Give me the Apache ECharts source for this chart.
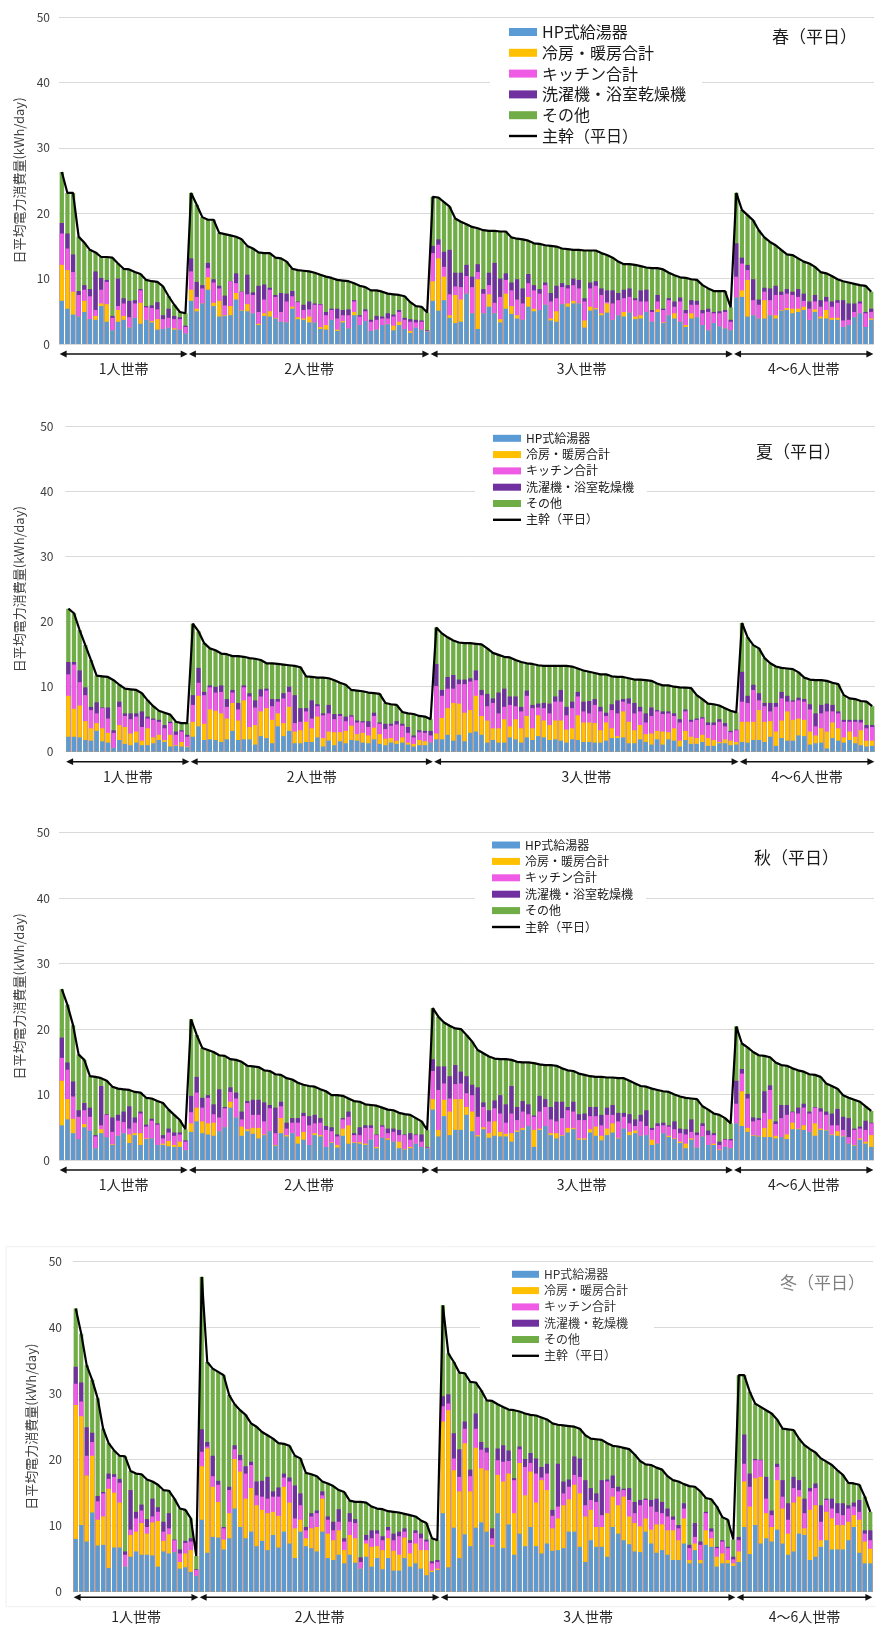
<!DOCTYPE html>
<html><head><meta charset="utf-8">
<script src="https://cdn.jsdelivr.net/npm/echarts@6/dist/echarts.min.js"></script>
<style>html,body{margin:0;padding:0;background:#fff}#c{width:876px;height:1628px}</style>
</head><body><div id="c"></div>
<script>
// ---------- categories / labels ----------
const groupNames = ['1人世帯', '2人世帯', '3人世帯', '4〜6人世帯'];
const seriesNames = ['HP式給湯器', '冷房・暖房合計', 'キッチン合計', '洗濯機・浴室乾燥機', 'その他', '主幹（平日）'];
const winterLaundryName = '洗濯機・乾燥機';
const yTicks = [0, 10, 20, 30, 40, 50];
// Values are read as the top level of each coloured band (kWh/day); bars are drawn from zero, overlapped.

// ---------- SPRING ----------
const springCounts = [23, 43, 54, 25];
const springHP = [6.6,5.4,4.5,4.2,4.9,3.8,3.7,5.8,3.4,2.1,3.4,3.7,2.5,4.0,3.1,3.7,3.3,2.2,2.3,2.5,2.2,2.2,1.6,
 6.6,5.0,6.2,8.3,5.8,4.2,4.3,4.4,6.8,5.1,5.0,4.7,2.9,4.3,4.2,3.9,3.4,3.3,5.4,3.8,3.7,3.3,3.3,2.3,2.2,3.7,2.0,3.3,2.4,4.4,2.9,3.5,2.0,2.2,2.9,3.0,2.1,2.9,2.3,1.7,2.5,2.2,1.9,
 6.6,5.1,6.7,4.0,3.2,3.4,7.7,4.7,2.3,4.7,5.7,4.7,3.3,5.4,4.6,3.9,3.7,5.7,5.0,5.2,6.0,3.6,3.4,6.1,5.7,6.2,6.2,2.5,5.1,5.3,4.4,4.8,3.7,4.4,4.2,4.8,3.8,3.9,4.9,3.4,4.9,3.2,4.4,3.9,3.4,2.6,3.9,4.1,2.9,2.1,3.2,2.7,2.4,2.1,
 7.1,7.2,4.2,4.4,3.9,3.9,4.4,3.9,5.1,5.2,4.7,4.9,5.2,3.7,4.9,3.9,3.9,3.7,3.7,2.6,2.9,4.1,4.7,2.6,3.7];
const springAC = [12.1,11.3,8.0,4.2,6.6,3.8,4.3,6.2,6.1,2.1,5.2,4.3,2.5,4.0,6.3,3.7,3.5,3.8,2.3,2.5,2.4,2.2,1.6,
 8.3,5.4,6.2,10.2,6.3,6.6,4.4,5.8,7.8,5.2,6.1,4.7,3.1,4.7,5.0,4.0,3.4,3.3,5.7,4.1,3.9,4.2,3.3,2.6,2.9,3.7,2.2,3.5,2.4,4.9,2.9,3.5,2.0,2.2,2.9,3.0,2.8,3.4,2.3,2.0,2.5,2.2,1.9,
 9.6,13.1,10.3,4.4,7.5,6.8,7.7,4.7,9.9,4.7,7.6,4.7,3.8,7.7,5.8,4.4,3.7,7.2,5.4,5.2,6.0,3.9,5.0,6.1,6.2,6.6,6.2,3.6,5.7,5.5,4.7,6.2,3.7,4.4,4.9,4.8,4.2,4.4,4.9,3.4,5.3,3.3,4.4,4.7,3.4,2.9,4.7,4.1,2.9,2.1,3.2,2.7,2.4,2.1,
 7.1,8.2,9.8,4.4,3.9,6.7,4.4,4.4,5.2,5.5,5.4,5.4,5.7,3.7,5.3,4.2,5.2,4.0,4.0,2.6,2.9,4.1,4.7,2.6,3.9];
const springKitchen = [16.9,14.6,11.0,7.5,8.3,7.3,5.2,8.3,9.5,4.0,5.8,6.2,4.1,6.2,8.2,5.6,5.5,5.3,3.8,4.0,3.8,3.8,2.6,
 11.1,7.2,8.5,11.6,9.4,8.5,5.9,9.6,9.3,8.0,7.6,7.5,4.9,6.8,8.3,7.2,4.9,6.5,7.3,6.4,5.2,5.3,6.0,6.0,4.4,5.2,3.9,4.4,4.4,6.5,4.2,5.0,3.4,3.7,3.9,3.9,4.2,4.9,3.7,3.4,3.3,3.4,2.0,
 13.9,15.2,11.8,7.6,8.8,8.7,10.4,8.7,11.0,7.7,9.0,6.3,7.2,9.8,8.2,6.8,6.2,9.3,8.2,7.7,9.0,6.5,7.0,8.7,8.5,9.0,8.5,6.5,8.5,8.9,7.5,6.4,6.2,6.7,7.0,7.2,6.7,6.5,6.5,4.9,6.5,5.2,6.7,5.7,6.5,4.7,6.0,6.0,4.7,4.9,4.7,4.7,4.9,3.4,
 10.3,12.3,11.3,6.7,6.0,8.0,6.7,7.5,7.5,7.7,7.5,7.2,6.6,5.4,6.5,5.7,6.5,5.7,6.3,3.6,3.7,4.9,6.2,4.7,4.9];
const springLaundry = [18.5,16.9,13.7,8.1,9.0,8.4,11.1,10.1,9.8,4.3,10.0,7.0,6.6,6.7,8.4,5.8,5.9,6.4,4.4,5.4,4.3,4.1,2.8,
 13.1,9.5,9.0,12.4,9.9,8.9,7.4,9.6,10.8,8.0,10.6,7.9,8.9,9.1,8.6,7.5,7.8,7.7,8.1,6.5,6.0,6.5,6.2,6.1,4.9,5.4,5.4,5.2,5.3,6.7,4.4,5.3,3.7,4.3,4.2,4.7,4.5,5.2,4.0,3.8,3.7,3.6,2.1,
 15.0,16.0,14.1,14.4,10.9,10.9,12.1,10.3,12.2,8.4,10.9,12.4,10.0,10.8,9.4,9.9,8.5,10.7,9.0,8.4,9.4,7.8,8.9,9.3,9.0,10.0,9.8,7.0,9.4,9.6,8.5,8.2,8.2,7.8,8.3,8.5,7.0,8.2,8.3,5.2,7.5,5.4,7.0,6.5,7.1,5.2,6.7,6.6,5.2,5.4,4.9,5.0,5.2,3.7,
 15.4,13.2,12.1,9.9,6.8,8.6,8.5,8.9,8.0,8.4,8.0,8.4,7.7,6.5,7.5,6.7,7.2,6.5,6.7,6.7,6.2,6.2,6.5,4.9,5.4];
const springMain = [26.3,23.1,23.1,16.4,15.5,14.4,14.0,13.3,13.3,13.2,12.3,11.5,11.4,11.0,10.7,9.8,9.6,9.5,8.8,7.3,6.0,4.9,4.7,
 23.1,21.3,19.4,19.0,19.0,17.0,16.8,16.6,16.4,16.0,15.0,14.6,14.0,13.9,13.9,13.2,13.1,12.6,11.5,11.3,11.2,11.1,10.9,10.6,10.3,10.1,9.8,9.7,9.6,9.3,8.9,8.7,8.2,8.2,8.0,7.7,7.6,7.5,7.3,6.4,5.8,5.7,4.8,
 22.5,22.4,21.7,21.0,19.2,18.7,18.3,17.9,17.7,17.4,17.3,17.3,17.2,17.2,16.3,16.1,16.0,15.8,15.4,15.3,15.1,15.0,14.9,14.6,14.5,14.4,14.4,14.3,14.3,14.3,13.9,13.6,13.2,12.6,12.2,12.2,12.1,11.9,11.7,11.6,11.6,11.4,10.9,10.5,10.2,10.1,9.9,9.8,9.0,8.5,8.1,8.1,8.1,5.6,
 23.1,20.5,19.7,18.9,17.4,16.3,15.6,15.1,14.4,13.7,13.6,13.1,12.6,12.3,11.8,11.0,10.8,10.4,9.9,9.6,9.4,9.2,9.0,8.9,8.0];

// ---------- SUMMER ----------
const summerCounts = [22, 43, 54, 24];
const summerHP = [2.3,2.3,2.2,1.8,1.7,3.2,1.6,1.4,0.6,1.8,1.2,1.0,1.4,1.0,1.0,1.3,1.8,1.5,0.8,0.9,0.8,0.7,
 2.3,3.9,1.8,1.9,1.8,1.5,1.9,3.2,1.8,1.9,1.9,1.1,2.4,2.1,1.3,3.9,2.4,3.2,1.3,1.3,1.5,1.5,2.2,0.8,1.7,1.0,1.6,1.3,1.8,1.7,1.4,1.3,1.9,1.2,1.0,1.4,1.2,1.4,1.1,0.8,1.0,1.0,1.4,
 1.9,1.9,2.6,1.7,2.6,1.6,2.9,3.1,2.6,1.4,1.8,1.4,1.4,2.2,1.9,1.4,2.2,1.8,2.4,2.2,1.8,1.9,1.7,1.4,1.9,1.8,1.5,1.5,1.4,1.4,1.7,2.1,2.1,2.2,1.3,1.3,1.9,1.5,1.1,1.9,1.1,1.9,1.7,0.8,1.8,1.2,1.2,1.5,0.9,0.9,1.3,1.3,1.0,1.1,
 1.5,1.4,1.8,1.8,1.5,2.3,0.9,2.1,1.7,1.7,2.5,2.4,1.1,1.3,1.4,0.5,2.1,1.7,1.4,1.8,1.3,1.0,0.8,0.9];
const summerAC = [8.6,6.6,7.1,4.7,3.6,4.4,3.6,2.9,0.6,4.1,3.8,2.8,3.1,1.7,3.6,2.2,2.6,1.8,2.6,1.0,1.5,0.8,
 4.6,8.6,4.3,6.5,6.3,5.9,5.1,7.5,4.8,7.9,3.8,4.1,6.2,6.7,4.9,5.9,4.4,6.9,3.1,3.3,4.6,3.6,5.4,2.1,3.1,3.0,3.0,3.2,4.0,2.7,2.9,2.5,3.7,2.7,2.0,2.1,1.7,2.2,1.4,1.2,1.8,1.6,1.4,
 2.8,5.2,6.7,7.5,7.4,6.0,6.4,8.6,5.5,4.8,3.6,3.6,5.0,3.9,5.0,3.6,5.5,3.6,5.6,4.8,4.1,4.8,4.8,3.4,3.6,5.6,4.5,4.5,4.4,3.3,4.5,3.6,2.4,6.2,4.6,3.3,4.1,2.7,2.8,3.2,3.1,3.0,3.6,1.7,3.2,2.3,2.1,2.6,2.1,1.8,1.5,1.9,1.7,1.5,
 4.6,4.6,4.6,6.4,4.6,4.7,3.1,4.8,6.2,4.9,5.1,4.9,3.1,2.5,3.6,3.1,4.5,3.6,2.2,3.1,2.3,3.3,1.7,1.7];
const summerKitchen = [11.9,13.4,10.7,8.7,6.4,5.9,6.7,5.1,2.9,6.9,5.5,5.0,5.4,3.8,5.1,4.9,4.6,3.6,4.4,2.6,3.1,2.3,
 7.2,10.6,8.7,9.9,9.1,9.2,6.9,9.1,6.5,9.9,8.5,6.8,8.5,9.4,7.0,7.7,8.2,9.2,4.4,4.6,6.2,5.1,7.0,5.6,5.9,5.0,5.5,4.7,5.4,4.5,4.5,3.8,5.5,4.3,3.5,4.0,4.2,4.0,2.9,2.2,3.0,2.9,2.5,
 10.1,8.6,9.7,9.7,10.4,10.4,10.8,11.0,8.7,7.0,7.5,5.9,6.9,7.2,7.0,6.2,8.6,6.7,6.8,6.7,5.9,7.7,7.7,5.6,6.7,8.5,6.2,5.9,7.2,6.2,5.5,6.4,5.9,7.7,7.4,5.9,6.2,4.5,5.5,6.2,5.8,5.9,5.5,4.5,6.2,4.6,4.9,5.1,4.1,4.1,4.6,3.9,3.0,3.3,
 7.7,7.5,9.5,7.9,7.0,6.2,6.9,8.2,7.7,7.7,7.9,7.7,6.5,3.9,5.9,6.2,6.2,5.9,4.6,4.6,4.6,4.5,3.6,3.8];
const summerLaundry = [13.8,13.8,12.5,9.9,6.9,7.6,6.8,6.8,3.3,7.7,5.9,5.9,5.9,6.2,5.4,5.1,4.9,4.1,4.6,3.1,3.3,2.6,
 8.7,12.9,9.2,10.2,10.0,10.2,8.1,9.5,7.5,10.2,9.0,7.9,9.6,9.7,8.1,8.1,9.0,10.0,8.7,6.7,6.7,7.9,7.3,5.9,7.2,5.8,5.8,5.4,5.6,4.8,4.7,4.7,6.0,4.5,4.3,4.3,4.7,4.3,3.8,2.5,3.3,3.2,3.2,
 13.5,9.5,11.5,11.8,11.1,11.1,11.3,12.5,9.5,8.9,8.2,9.1,9.7,8.5,8.5,6.9,9.4,7.2,7.4,7.5,7.4,8.5,9.5,6.9,7.7,9.2,7.7,7.8,8.1,6.9,6.0,7.3,7.9,8.1,8.2,7.5,6.9,5.9,6.8,6.4,6.2,6.2,5.9,5.0,6.5,4.9,5.1,5.3,4.5,4.5,5.0,4.4,3.2,3.4,
 12.3,8.6,10.3,9.0,7.5,7.5,7.5,9.2,8.6,7.9,8.3,8.1,7.3,5.9,7.2,7.4,7.2,6.2,4.9,4.9,4.9,4.9,4.1,4.1];
const summerMain = [22.0,21.3,18.7,16.4,14.1,11.7,11.6,11.5,11.0,10.3,9.7,9.6,9.5,9.0,7.9,7.0,6.3,6.0,5.7,4.6,4.4,4.4,
 19.7,18.5,16.7,15.9,15.6,15.1,15.0,14.7,14.7,14.6,14.4,14.3,14.1,13.6,13.6,13.5,13.4,13.3,13.2,13.0,11.6,11.5,11.4,11.4,11.3,11.0,10.6,10.3,9.5,9.4,9.3,9.1,9.0,8.9,7.5,7.3,7.2,6.1,5.9,5.8,5.5,5.4,5.0,
 19.1,18.2,17.6,17.1,16.8,16.7,16.7,16.6,16.5,15.9,15.2,14.9,14.6,14.5,14.1,13.8,13.6,13.5,13.3,13.2,13.2,13.2,13.2,13.2,13.1,12.8,12.5,12.3,12.1,11.9,11.9,11.6,11.5,11.5,11.3,11.1,11.1,11.0,10.9,10.5,10.2,10.2,10.0,9.9,9.85,9.8,8.7,8.1,7.4,7.3,7.1,6.7,6.3,6.05,
 19.8,17.6,16.4,15.9,14.4,13.6,13.1,12.9,12.8,12.7,12.2,11.4,11.1,11.0,11.0,10.9,10.6,10.4,8.7,8.2,8.1,7.8,7.7,7.0];

// ---------- AUTUMN ----------
const autumnCounts = [23, 43, 54, 25];
const autumnHP = [5.3,6.2,4.1,3.2,5.0,4.5,1.8,4.1,3.5,2.3,3.7,4.1,2.6,3.8,2.3,3.2,3.3,2.3,2.3,2.1,2.0,2.0,1.5,
 4.3,5.9,4.1,3.9,3.7,4.4,5.0,8.0,6.5,3.7,4.4,4.0,3.3,3.8,4.4,2.2,4.1,3.6,4.1,2.5,3.1,2.3,3.8,3.6,2.0,2.6,1.9,3.7,2.5,2.6,2.5,2.3,3.1,1.8,3.4,3.1,2.8,1.8,1.6,1.8,2.5,2.0,1.8,
 7.7,3.6,6.7,3.8,4.6,4.6,6.9,4.4,3.6,4.7,3.4,3.7,3.6,3.6,2.8,4.3,4.6,5.2,2.0,4.6,5.2,3.8,3.3,3.7,4.2,4.7,3.1,3.1,4.2,3.7,3.0,3.8,4.2,3.3,4.8,3.8,4.1,3.7,3.8,2.3,2.5,4.1,3.5,3.2,2.6,1.8,3.1,1.9,3.6,2.3,2.3,1.5,2.0,1.8,
 5.6,5.2,4.3,3.7,3.6,3.5,3.5,3.3,3.5,3.2,4.7,4.7,4.6,4.3,3.7,4.6,4.5,3.8,3.7,3.6,2.5,2.2,3.1,2.5,2.0];
const autumnAC = [12.1,9.3,6.3,3.2,5.5,4.5,1.8,4.7,3.5,2.4,3.7,4.1,3.9,4.1,4.1,3.3,3.3,2.3,2.5,2.9,2.3,2.8,1.5,
 5.6,8.0,5.9,5.6,5.7,4.4,5.0,8.9,6.5,5.1,4.7,4.9,4.9,3.9,4.4,2.3,6.4,3.8,4.1,3.6,4.3,2.3,4.1,3.8,2.0,2.7,2.3,4.8,5.3,2.7,2.7,2.5,3.1,2.0,3.4,3.3,2.8,2.8,1.7,2.0,2.5,2.0,1.8,
 9.3,4.6,9.2,7.4,9.3,9.3,8.1,7.4,3.8,5.0,4.1,5.9,4.3,4.0,4.1,4.5,4.9,5.2,4.6,4.8,5.2,4.1,4.1,3.8,4.9,4.9,3.3,3.3,4.7,5.1,3.7,4.8,5.6,3.4,4.8,4.3,4.5,3.7,3.8,3.1,2.5,4.1,3.7,3.3,2.8,2.5,3.3,1.9,3.6,2.3,2.5,1.6,2.0,1.8,
 5.6,10.5,4.9,3.8,3.7,4.9,6.2,3.7,3.5,3.9,5.7,4.8,5.3,4.3,5.6,4.8,4.6,3.9,4.4,3.7,2.5,2.3,3.3,2.8,3.8];
const autumnKitchen = [15.6,13.8,9.7,6.6,7.6,6.6,3.6,5.3,6.9,4.3,6.0,5.8,4.8,5.7,7.1,5.1,6.0,5.4,3.3,4.2,3.7,3.9,2.8,
 7.3,10.3,8.0,9.5,7.0,6.5,7.9,10.4,9.4,6.2,8.7,6.9,6.9,5.9,7.9,4.1,8.2,4.8,5.7,5.7,6.7,5.3,5.6,5.7,4.6,4.4,3.6,6.2,6.6,3.8,3.8,4.9,4.9,3.8,5.1,4.1,4.3,3.8,3.8,3.1,3.8,2.8,1.9,
 13.6,10.7,11.7,9.4,11.6,11.7,10.2,9.9,6.6,8.1,5.9,7.9,7.1,5.7,7.1,6.1,7.4,7.0,6.6,7.4,8.1,6.2,5.9,6.4,7.6,7.4,6.1,6.1,6.7,6.7,5.3,6.9,6.9,5.9,6.6,5.6,5.2,5.9,5.2,4.6,5.2,5.3,5.1,4.7,4.1,3.9,4.3,3.8,5.2,3.8,3.8,2.3,3.1,3.0,
 8.6,13.2,9.4,5.9,6.1,7.2,10.7,5.5,6.4,6.9,7.3,7.1,8.0,7.1,8.0,7.4,6.9,5.3,5.3,4.6,3.5,4.6,4.8,4.6,5.6];
const autumnLaundry = [18.7,14.9,12.0,7.6,8.7,8.0,3.8,11.3,7.0,6.5,6.9,7.4,8.2,6.5,7.4,5.4,6.3,5.6,3.8,4.8,4.2,4.2,3.0,
 9.8,12.7,9.5,9.9,8.5,10.8,8.1,11.1,10.3,7.4,9.0,9.2,9.2,8.8,8.4,8.0,8.9,5.7,6.4,6.4,7.2,6.7,6.9,6.4,5.2,5.0,3.9,6.4,7.4,4.1,5.0,5.3,5.3,3.9,5.3,4.8,4.8,4.6,3.9,4.1,3.9,3.9,2.0,
 15.4,14.3,14.3,12.8,14.5,13.5,12.8,11.5,11.1,8.8,7.6,9.1,9.9,8.5,11.3,8.1,9.0,8.5,6.8,9.8,9.3,8.1,8.9,8.9,8.1,8.9,7.0,7.1,8.1,8.1,6.9,8.0,8.4,7.2,7.2,7.0,6.2,6.9,7.6,4.9,5.6,5.7,5.3,5.9,4.8,4.7,6.2,4.2,5.6,4.5,4.1,2.8,3.2,3.2,
 12.1,13.9,10.1,6.5,6.4,10.5,11.4,5.9,8.4,8.4,7.4,8.0,8.6,7.4,8.1,7.9,7.4,7.1,7.8,6.6,6.4,4.8,5.1,6.0,5.7];
const autumnMain = [26.1,23.7,20.6,16.1,15.3,12.8,12.7,12.5,12.1,11.2,10.9,10.8,10.7,10.4,10.3,9.5,9.4,9.0,8.7,7.7,6.9,6.1,4.7,
 21.5,19.1,17.1,16.8,16.5,16.0,15.9,15.4,15.3,15.0,14.4,14.3,14.2,13.7,13.6,13.1,13.0,12.5,12.3,11.8,11.5,11.3,11.2,10.8,10.5,9.9,9.9,9.8,9.4,9.0,8.9,8.5,8.4,8.3,8.0,7.7,7.6,7.2,7.0,6.9,6.4,5.9,4.6,
 23.2,21.9,21.0,20.5,20.1,20.0,19.1,18.1,16.8,16.3,15.8,15.5,15.4,15.4,15.3,15.0,14.9,14.9,14.8,14.6,14.5,14.5,14.4,14.0,13.7,13.6,13.2,13.0,12.8,12.7,12.7,12.6,12.6,12.5,12.5,12.1,11.7,11.3,11.2,10.9,10.7,10.5,10.4,10.0,9.7,9.5,9.4,9.3,8.2,7.7,7.1,6.9,6.4,5.6,
 20.4,17.8,17.2,16.5,16.0,15.9,15.7,14.9,14.5,14.4,14.0,13.7,13.5,13.1,13.0,12.7,11.7,11.3,10.9,9.9,9.5,9.2,8.9,8.2,7.5];

// ---------- WINTER ----------
const winterCounts = [23, 44, 54, 25];
const winterHP = [8.0,10.1,7.6,12.0,7.0,7.1,3.6,6.7,6.7,3.8,5.3,6.1,5.6,5.6,5.5,3.8,6.1,5.8,6.0,3.5,3.7,3.0,2.4,
 10.9,5.9,8.3,8.2,6.4,8.1,12.6,9.8,8.1,9.1,6.9,7.7,6.3,8.6,6.7,9.1,7.3,5.1,9.1,6.9,6.6,6.1,9.1,5.1,4.8,5.6,4.3,5.6,4.4,3.5,5.3,3.8,5.1,3.4,5.1,3.2,3.2,5.1,3.8,4.3,3.5,2.5,3.0,3.3,
 11.9,3.7,9.7,5.1,8.7,6.9,9.7,10.5,9.1,6.8,11.9,6.6,10.2,5.6,8.8,6.9,9.8,6.9,5.8,7.3,6.2,6.3,6.6,9.1,9.1,6.8,4.5,7.8,6.8,6.8,5.3,9.8,8.8,7.8,7.2,6.1,6.0,9.1,7.3,5.9,6.3,5.6,4.8,4.8,7.3,4.3,6.3,4.3,7.1,6.8,3.8,4.3,4.3,3.9,
 4.5,9.8,5.7,10.1,7.3,8.1,7.6,9.4,7.3,5.6,6.1,8.8,8.6,4.8,5.3,6.8,7.8,6.4,6.4,6.4,7.8,9.8,5.9,4.3,4.3];
const winterAC = [28.3,26.6,17.6,20.6,10.9,11.4,15.6,15.0,13.5,3.8,8.6,9.1,10.4,8.8,10.5,10.7,7.7,8.7,6.0,4.5,5.8,6.3,2.4,
 19.0,21.7,15.9,13.6,7.9,11.9,20.1,18.2,14.1,15.7,13.1,12.4,11.9,12.1,11.5,15.9,13.5,9.6,10.9,8.1,9.6,9.8,14.1,8.8,7.8,9.3,6.3,8.6,8.1,3.5,7.3,6.8,6.9,6.3,8.1,6.2,5.6,8.2,5.8,7.3,6.3,6.3,3.2,3.5,
 25.8,27.5,18.4,15.2,22.5,15.2,21.8,18.7,18.4,7.1,17.7,16.7,17.9,11.9,19.5,14.6,18.2,13.5,16.9,15.4,9.6,11.1,13.1,14.0,16.2,14.9,11.4,12.4,9.8,9.8,11.9,14.4,13.1,14.4,11.4,10.4,9.9,11.1,9.4,10.2,10.2,9.3,9.3,7.8,11.1,4.8,7.3,4.8,9.3,8.1,5.3,5.8,4.8,4.3,
 6.1,16.7,12.9,17.2,17.4,11.9,9.8,16.9,12.6,8.8,13.5,14.4,9.6,12.4,13.1,7.8,12.1,11.1,10.1,10.1,10.6,11.6,10.9,7.6,6.5];
const winterKitchen = [31.5,28.8,20.6,22.7,13.7,14.9,17.1,17.4,16.5,5.6,9.4,11.1,12.3,9.8,11.4,12.1,9.1,9.6,7.8,5.8,7.4,7.6,3.3,
 21.2,22.0,17.5,16.2,9.6,15.4,21.6,19.9,17.9,19.2,14.6,14.4,14.1,14.4,14.4,17.3,16.7,11.1,13.1,9.3,11.4,11.9,14.6,10.9,9.3,10.6,7.6,10.6,10.4,4.5,7.8,8.1,8.8,7.8,9.3,7.8,8.4,9.1,7.4,8.9,8.1,7.6,4.3,4.5,
 28.1,28.5,20.2,17.4,24.7,17.5,24.7,21.5,21.1,8.1,19.9,19.7,19.8,16.9,21.6,18.9,19.5,17.9,17.3,17.9,11.5,12.9,14.9,15.9,17.7,17.4,13.1,13.9,13.6,11.6,16.7,15.7,15.2,15.4,13.9,11.9,13.1,13.9,12.9,12.1,11.9,11.4,10.9,9.6,12.6,6.6,8.3,7.1,11.9,9.1,6.6,7.6,6.6,4.9,
 7.8,19.4,15.9,19.9,19.9,14.1,11.6,18.9,14.4,10.9,15.7,15.4,11.9,15.2,15.7,10.6,13.9,12.6,11.9,11.6,12.6,12.9,12.1,8.8,7.8];
const winterLaundry = [34.1,31.7,24.9,24.1,14.5,15.1,17.9,17.8,17.1,6.1,15.4,12.1,13.2,11.0,14.1,12.8,10.6,11.9,7.9,6.4,7.7,8.1,3.4,
 24.6,22.7,20.6,16.8,9.8,15.9,22.2,20.7,19.0,19.7,16.7,16.8,17.4,15.2,15.8,17.9,17.3,16.1,14.9,9.8,11.9,12.3,15.2,11.4,10.6,12.5,8.1,11.9,11.0,5.2,8.6,9.3,9.3,8.4,9.8,8.8,9.1,9.6,7.8,9.3,8.8,7.9,4.6,4.8,
 29.6,29.9,24.0,21.6,25.8,18.5,27.0,22.7,21.8,9.6,21.7,22.2,21.4,17.2,22.0,20.1,21.0,20.2,18.9,19.4,12.4,19.4,16.7,17.0,20.5,20.2,16.9,15.7,14.9,16.9,17.0,17.6,15.9,15.6,15.7,13.6,13.9,14.1,13.9,14.1,13.6,12.6,11.4,10.1,13.4,7.1,10.4,7.6,12.1,9.6,6.8,7.8,6.8,5.3,
 8.3,23.8,17.9,20.1,20.0,17.4,12.3,19.4,16.9,13.4,17.4,16.9,14.1,15.7,16.4,13.1,14.1,14.1,13.4,13.4,13.1,13.5,13.9,9.3,9.3];
const winterMain = [42.9,39.1,34.3,32.1,29.3,24.7,22.5,21.4,20.6,20.5,18.3,17.9,17.8,17.0,16.7,16.2,15.4,15.3,14.1,12.6,12.4,11.1,5.4,
 47.7,34.8,33.8,33.3,32.8,29.8,28.4,27.5,26.8,25.5,25.0,24.2,23.7,23.2,22.5,22.4,22.1,20.6,20.2,18.0,17.8,17.5,16.7,16.4,16.0,15.4,15.1,13.8,13.6,13.6,13.5,12.9,12.6,12.5,12.2,12.1,12.0,11.8,11.6,11.4,10.8,10.4,8.1,7.8,
 43.4,36.1,34.8,33.2,33.1,31.8,31.7,30.5,29.0,28.9,28.4,28.0,27.6,27.5,27.3,27.0,26.8,26.7,26.4,26.1,25.5,25.3,25.2,25.1,25.0,24.7,23.7,23.2,23.1,23.0,22.5,22.1,22.0,21.8,21.6,20.8,19.8,19.3,19.2,18.8,18.5,17.5,16.9,16.7,16.3,16.0,15.9,15.2,14.2,14.0,12.9,11.3,10.9,7.9,
 32.8,32.8,30.3,28.5,28.0,27.5,27.0,26.1,24.7,24.6,24.5,23.2,22.2,21.6,21.1,20.2,19.7,19.2,18.4,17.7,16.5,16.4,16.2,14.4,12.1];

// ---------- styling / layout (kept apart from data) ----------
const COLORS = { hp: '#5b9bd5', ac: '#ffc000', kitchen: '#f05be6', laundry: '#7030a0', other: '#70ad47', main: '#000000' };
const JP = '"Noto Sans CJK JP", "Noto Sans", sans-serif';
const LINE_ICON = 'path://M0,0L28,0L28,2.4L0,2.4Z';

const panels = [
  { title: '春（平日）', counts: springCounts, hp: springHP, ac: springAC, kitchen: springKitchen, laundry: springLaundry, main: springMain,
    laundryName: seriesNames[3],
    L: { left: 59, top: 17, width: 815, height: 327, labelMargin: 9, nameGap: 33, titleLeft: 772, titleTop: 28, titleColor: '#1a1a1a',
         legLeft: 490, legTop: 20, legPad: [3, 16, 1, 19], legFont: 16, legLH: 18, legGap: 2.8, legIW: 28, legIH: 8, legColor: '#1a1a1a',
         arrowOff: 10, labelOff: 24.5 } },
  { title: '夏（平日）', counts: summerCounts, hp: summerHP, ac: summerAC, kitchen: summerKitchen, laundry: summerLaundry, main: summerMain,
    laundryName: seriesNames[3],
    L: { left: 65.5, top: 426.7, width: 809.5, height: 325, labelMargin: 12, nameGap: 40, titleLeft: 756, titleTop: 442.7, titleColor: '#1a1a1a',
         legLeft: 475, legTop: 428.3, legPad: [3, 13, 1, 18], legFont: 12, legLH: 14, legGap: 2.3, legIW: 28, legIH: 7, legColor: '#1a1a1a',
         arrowOff: 10, labelOff: 24.5 } },
  { title: '秋（平日）', counts: autumnCounts, hp: autumnHP, ac: autumnAC, kitchen: autumnKitchen, laundry: autumnLaundry, main: autumnMain,
    laundryName: seriesNames[3],
    L: { left: 59, top: 832.7, width: 815, height: 327.3, labelMargin: 9, nameGap: 33, titleLeft: 754, titleTop: 849, titleColor: '#1a1a1a',
         legLeft: 475, legTop: 835, legPad: [3, 13, 1, 17], legFont: 12, legLH: 14, legGap: 2.4, legIW: 28, legIH: 7, legColor: '#1a1a1a',
         arrowOff: 10, labelOff: 25 } },
  { title: '冬（平日）', counts: winterCounts, hp: winterHP, ac: winterAC, kitchen: winterKitchen, laundry: winterLaundry, main: winterMain,
    laundryName: winterLaundryName,
    L: { left: 73, top: 1261.7, width: 800, height: 330, labelMargin: 11, nameGap: 30, titleLeft: 780, titleTop: 1274, titleColor: '#7f7f7f',
         legLeft: 480, legTop: 1264.3, legPad: [3, 26, 1, 32], legFont: 12, legLH: 14, legGap: 2.3, legIW: 27, legIH: 7, legColor: '#333333',
         arrowOff: 5.6, labelOff: 25 } }
];

function categoriesFor(counts) {
  const out = [];
  counts.forEach((n, g) => { for (let i = 1; i <= n; i++) out.push(groupNames[g] + '-' + i); });
  return out;
}

const option = { animation: false, backgroundColor: '#ffffff', grid: [], xAxis: [], yAxis: [], series: [], legend: [], title: [] };

panels.forEach((p, i) => {
  const L = p.L;
  option.grid.push({ left: L.left, top: L.top, width: L.width, height: L.height, containLabel: false });
  option.xAxis.push({ type: 'category', gridIndex: i, data: categoriesFor(p.counts), boundaryGap: true,
    axisLine: { show: false }, axisTick: { show: false }, axisLabel: { show: false }, splitLine: { show: false } });
  option.yAxis.push({ type: 'value', gridIndex: i, min: yTicks[0], max: yTicks[yTicks.length - 1], interval: 10,
    axisLine: { show: false }, axisTick: { show: false },
    axisLabel: { color: '#404040', fontSize: 12, margin: L.labelMargin, fontFamily: JP },
    splitLine: { lineStyle: { color: '#d9d9d9', width: 1 } },
    name: '日平均電力消費量(kWh/day)', nameLocation: 'middle', nameGap: L.nameGap, nameRotate: 90,
    nameTextStyle: { fontSize: 13, color: '#404040', fontFamily: JP } });

  const barBase = { type: 'bar', xAxisIndex: i, yAxisIndex: i, barGap: '-100%', barCategoryGap: '24%', silent: true };
  // back to front: other (up to main), laundry, kitchen, cooling/heating, HP
  option.series.push(Object.assign({}, barBase, { name: seriesNames[4], data: p.main, itemStyle: { color: COLORS.other } }));
  option.series.push(Object.assign({}, barBase, { name: p.laundryName, data: p.laundry, itemStyle: { color: COLORS.laundry } }));
  option.series.push(Object.assign({}, barBase, { name: seriesNames[2], data: p.kitchen, itemStyle: { color: COLORS.kitchen } }));
  option.series.push(Object.assign({}, barBase, { name: seriesNames[1], data: p.ac, itemStyle: { color: COLORS.ac } }));
  option.series.push(Object.assign({}, barBase, { name: seriesNames[0], data: p.hp, itemStyle: { color: COLORS.hp } }));
  option.series.push({ type: 'line', name: seriesNames[5], xAxisIndex: i, yAxisIndex: i, data: p.main, symbol: 'none', showSymbol: false,
    lineStyle: { color: COLORS.main, width: 2.2 }, itemStyle: { color: COLORS.main }, z: 5, silent: true });

  option.legend.push({
    orient: 'vertical', left: L.legLeft, top: L.legTop, padding: L.legPad, backgroundColor: '#ffffff',
    itemWidth: L.legIW, itemHeight: L.legIH, itemGap: L.legGap, selectedMode: false, symbolKeepAspect: true,
    textStyle: { fontSize: L.legFont, lineHeight: L.legLH, color: L.legColor, fontFamily: JP },
    data: [
      { name: seriesNames[0], icon: 'rect' }, { name: seriesNames[1], icon: 'rect' }, { name: seriesNames[2], icon: 'rect' },
      { name: p.laundryName, icon: 'rect' }, { name: seriesNames[4], icon: 'rect' },
      { name: seriesNames[5], icon: LINE_ICON, itemStyle: { color: '#000000' } }
    ]
  });
  option.title.push({ text: p.title, left: L.titleLeft, top: L.titleTop, padding: 0,
    textStyle: { fontSize: 17, fontWeight: 'normal', color: L.titleColor, fontFamily: JP } });
});

const chart = echarts.init(document.getElementById('c'), null, { renderer: 'canvas' });
chart.setOption(option);

// group arrows and labels, positioned through the category axes
const gfx = [];
// faint outer frame of the winter chart
const wTop = chart.convertToPixel({ yAxisIndex: 3 }, 50);
gfx.push({ type: 'rect', silent: true, shape: { x: 6, y: wTop - 15, width: 880, height: 360 }, style: { fill: 'none', stroke: '#f0f0f0', lineWidth: 1 } });
panels.forEach((p, i) => {
  const c0 = chart.convertToPixel({ xAxisIndex: i }, 0);
  const c1 = chart.convertToPixel({ xAxisIndex: i }, 1);
  const pitch = c1 - c0;
  const y0 = chart.convertToPixel({ yAxisIndex: i }, 0);
  const ya = y0 + p.L.arrowOff;
  let start = 0;
  p.counts.forEach((n, g) => {
    const xa = chart.convertToPixel({ xAxisIndex: i }, start) - pitch / 2 + 0.6;
    const xb = chart.convertToPixel({ xAxisIndex: i }, start + n - 1) + pitch / 2 - 0.6;
    const hl = 7, hh = 3.4;
    gfx.push({ type: 'line', silent: true, shape: { x1: xa + hl - 1, y1: ya, x2: xb - hl + 1, y2: ya }, style: { stroke: '#111', lineWidth: 1.4 } });
    gfx.push({ type: 'polygon', silent: true, shape: { points: [[xa, ya], [xa + hl, ya - hh], [xa + hl, ya + hh]] }, style: { fill: '#111' } });
    gfx.push({ type: 'polygon', silent: true, shape: { points: [[xb, ya], [xb - hl, ya - hh], [xb - hl, ya + hh]] }, style: { fill: '#111' } });
    gfx.push({ type: 'text', silent: true, x: (xa + xb) / 2, y: y0 + p.L.labelOff,
      style: { text: groupNames[g], font: '14px ' + JP, fill: '#262626', align: 'center', verticalAlign: 'middle', textAlign: 'center', textVerticalAlign: 'middle' } });
    start += n;
  });
});
chart.setOption({ graphic: gfx });
</script>
</body></html>
